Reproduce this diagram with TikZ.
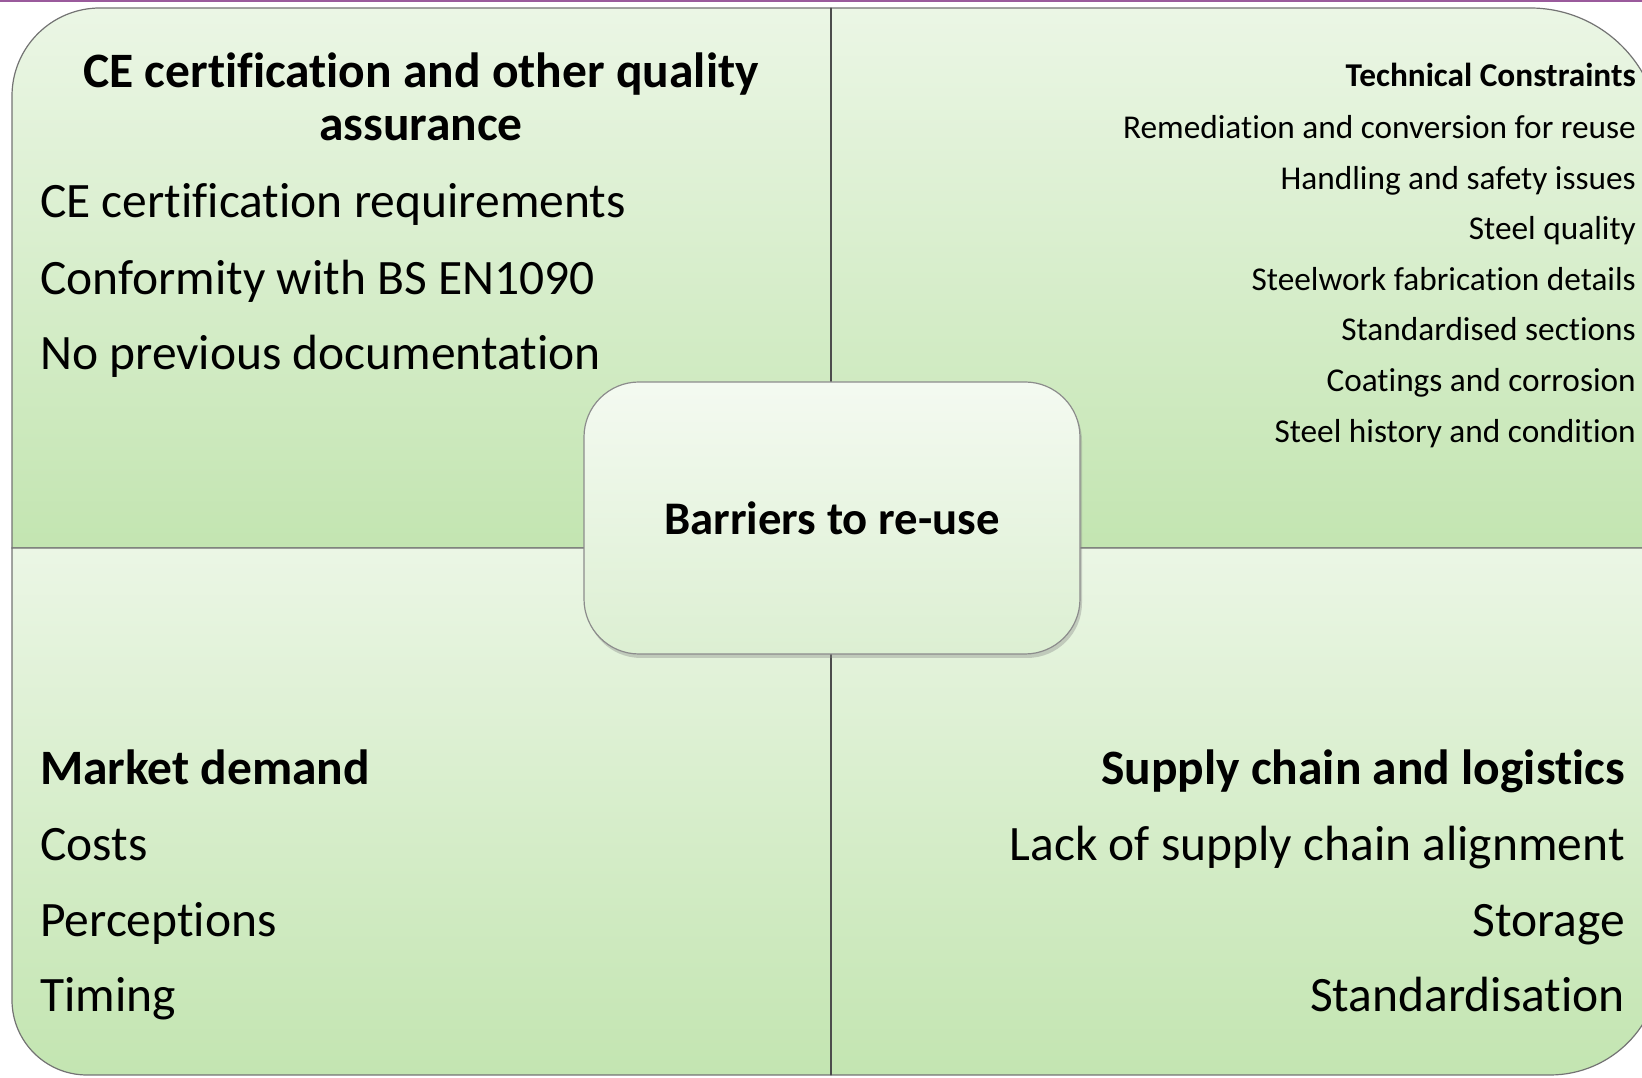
\documentclass[tikz,border=0pt]{standalone}
\usepackage{fontspec}
\setmainfont[Ligatures=NoCommon]{Carlito}
\usetikzlibrary{shadows}
\definecolor{qtop}{HTML}{EBF6E5}
\definecolor{qbot}{HTML}{C3E5B1}
\definecolor{hubtop}{HTML}{F4FAF1}
\definecolor{hubbot}{HTML}{DCEFD2}
\definecolor{rim}{HTML}{9A5A9C}

\begin{document}
\begin{tikzpicture}[x=1pt, y=1pt,
  quad/.style={draw=black!55, line width=1.2pt, top color=qtop, bottom color=qbot},
  hub/.style={draw=black!45, line width=1.2pt, rounded corners=55pt, minimum width=496pt, minimum height=272pt,
    top color=hubtop, bottom color=hubbot, drop shadow={opacity=0.35, shadow xshift=2pt, shadow yshift=-4pt},
    font=\bfseries\fontsize{46.7}{50}\selectfont},
  big/.style={inner sep=0pt, font=\fontsize{49.5}{55}\selectfont},
  bigb/.style={inner sep=0pt, font=\bfseries\fontsize{49.5}{55}\selectfont},
  small/.style={inner sep=0pt, anchor=base east, font=\fontsize{33.3}{36}\selectfont},
  smallb/.style={inner sep=0pt, anchor=base east, font=\bfseries\fontsize{33.3}{36}\selectfont}]
  \useasboundingbox (0,0) rectangle (1642,1078);
  \fill[rim] (0,1076) rectangle (1642,1078);
  \coordinate (tl) at (12,1070);
  \coordinate (tm) at (831,1070);
  \coordinate (tr) at (1660,1070);
  \coordinate (ml) at (12,530);
  \coordinate (mm) at (831,530);
  \coordinate (mr) at (1660,530);
  \coordinate (bl) at (12,3);
  \coordinate (bm) at (831,3);
  \coordinate (br) at (1660,3);
  \shadedraw[quad] (ml) -- ([yshift=-88pt]tl) arc[start angle=180, end angle=90, radius=88] -- (tm) -- (mm) -- cycle;
  \shadedraw[quad] (mm) -- (tm) -- ([xshift=-130pt]tr) arc[start angle=90, end angle=0, radius=130] -- (mr) -- cycle;
  \shadedraw[quad] (ml) -- ([yshift=75pt]bl) arc[start angle=180, end angle=270, radius=75] -- (bm) -- (mm) -- cycle;
  \shadedraw[quad] (mm) -- (bm) -- ([xshift=-110pt]br) arc[start angle=270, end angle=360, radius=110] -- (mr) -- cycle;
  \draw[black!70, line width=1.2pt] (tm) -- (bm);
  \node[bigb, anchor=base] (ce1) at (421,990) {CE certification and other quality};
  \node[bigb, anchor=base] (ce2) at (421,937) {assurance};
  \node[big, anchor=base west] (ce3) at (40,860) {CE certification requirements};
  \node[big, anchor=base west] (ce4) at (40,783) {Conformity with BS EN1090};
  \node[big, anchor=base west] (ce5) at (40,708) {No previous documentation};
  \node[smallb] (tc0) at (1636,991) {Technical Constraints};
  \node[small] (tc1) at (1636,939) {Remediation and conversion for reuse};
  \node[small] (tc2) at (1636,888) {Handling and safety issues};
  \node[small] (tc3) at (1636,838) {Steel quality};
  \node[small] (tc4) at (1636,787) {Steelwork fabrication details};
  \node[small] (tc5) at (1636,737) {Standardised sections};
  \node[small] (tc6) at (1636,686) {Coatings and corrosion};
  \node[small] (tc7) at (1636,635) {Steel history and condition};
  \node[bigb, anchor=base west] (md0) at (40,293) {Market demand};
  \node[big, anchor=base west] (md1) at (40,217) {Costs};
  \node[big, anchor=base west] (md2) at (40,141) {Perceptions};
  \node[big, anchor=base west] (md3) at (40,66) {Timing};
  \node[bigb, anchor=base east] (sc0) at (1625,293) {Supply chain and logistics};
  \node[big, anchor=base east] (sc1) at (1625,217) {Lack of supply chain alignment};
  \node[big, anchor=base east] (sc2) at (1625,141) {Storage};
  \node[big, anchor=base east] (sc3) at (1625,66) {Standardisation};
  \node[hub] (hub) at (832,560) {Barriers to re-use};
\end{tikzpicture}
\end{document}
